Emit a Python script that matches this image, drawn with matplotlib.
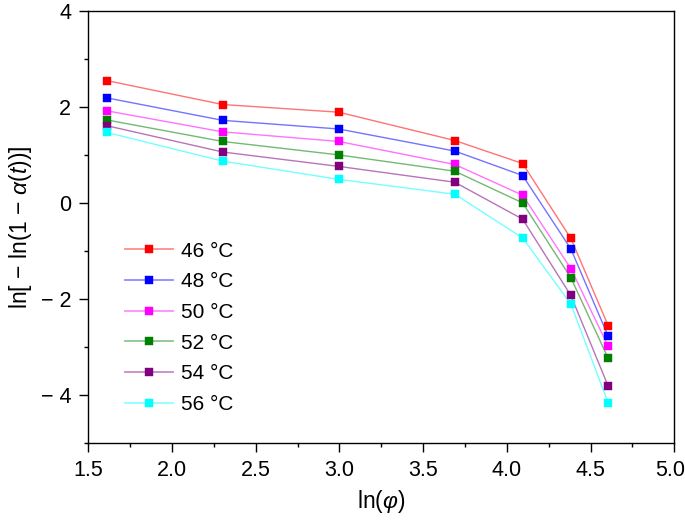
import matplotlib
matplotlib.use("Agg")
import matplotlib.pyplot as plt
from matplotlib.ticker import MultipleLocator, FuncFormatter
from matplotlib.lines import Line2D
from matplotlib.legend_handler import HandlerTuple
from matplotlib.transforms import ScaledTranslation

plt.rcParams['font.family'] = ['Liberation Sans', 'DejaVu Sans']
plt.rcParams['mathtext.fontset'] = 'custom'
plt.rcParams['mathtext.rm'] = 'Liberation Sans'
plt.rcParams['mathtext.it'] = 'Liberation Sans:italic'

# heating rates -> ln(phi)
ln_phi = [1.609, 2.303, 2.996, 3.689, 4.094, 4.382, 4.605]

labels = ["46 °C", "48 °C", "50 °C", "52 °C", "54 °C", "56 °C"]
colors = ["#FF0000", "#0000FF", "#FF00FF", "#008000", "#800080", "#00FFFF"]

y46 = [2.55, 2.05, 1.89, 1.30, 0.82, -0.74, -2.56]
y48 = [2.19, 1.72, 1.54, 1.08, 0.57, -0.96, -2.78]
y50 = [1.92, 1.48, 1.28, 0.80, 0.16, -1.37, -2.99]
y52 = [1.73, 1.28, 1.00, 0.66, 0.00, -1.56, -3.24]
y54 = [1.61, 1.06, 0.76, 0.43, -0.34, -1.93, -3.82]
y56 = [1.47, 0.87, 0.49, 0.18, -0.73, -2.11, -4.17]
series = [y46, y48, y50, y52, y54, y56]

xticks = [1.5, 2.0, 2.5, 3.0, 3.5, 4.0, 4.5, 5.0]
yticks = [-4, -2, 0, 2, 4]

fig = plt.figure(figsize=(6.85, 5.21), dpi=100)
ax = fig.add_axes([0.1289, 0.1503, 0.9844 - 0.1289, 0.9789 - 0.1503])

handles = []
for ys, c, lab in zip(series, colors, labels):
    ax.plot(ln_phi, ys, '-', color=c, lw=1.0, alpha=0.55, zorder=2)
    ax.plot(ln_phi, ys, 's', color=c, ms=5.2, mec=c, mew=0.3, zorder=3)
    hl = Line2D([], [], color=c, lw=1.3, alpha=0.45)
    hm = Line2D([], [], color=c, ls='none', marker='s', ms=5.2, mec=c, mew=0.3)
    handles.append((hl, hm))

ax.set_xlim(1.5, 5.0)
ax.set_ylim(-5, 4)
ax.set_xticks(xticks)
ax.set_yticks(yticks)
ax.xaxis.set_minor_locator(MultipleLocator(0.25))
ax.yaxis.set_minor_locator(MultipleLocator(1))
ax.xaxis.set_major_formatter(FuncFormatter(lambda v, p: f"{v:.1f}"))
ax.yaxis.set_major_formatter(FuncFormatter(
    lambda v, p: ("\u2212 " + f"{abs(v):.0f}") if v < 0 else f"{v:.0f}"))

ax.tick_params(which='both', direction='out', top=False, right=False,
               width=1.0, labelsize=15.5)
ax.tick_params(which='major', length=6.3, pad=6)
ax.tick_params(which='minor', length=3)
for s in ax.spines.values():
    s.set_linewidth(1.0)

# nudge the last x tick label so it stays inside the figure
last = ax.xaxis.get_major_ticks()[-1].label1
last.set_transform(last.get_transform() + ScaledTranslation(-4 / 100, 0, fig.dpi_scale_trans))

ax.set_xlabel(r'ln($\varphi$)', fontsize=16.5, labelpad=5)
ax.set_ylabel(r'ln[ $-$ ln(1 $-$ $\alpha$($t$))]', fontsize=16.5, labelpad=5)

leg = ax.legend(handles=handles, labels=labels, loc='upper left',
                handler_map={tuple: HandlerTuple(ndivide=1)},
                bbox_to_anchor=(0.062, 0.466), frameon=False,
                fontsize=15, handlelength=2.3, handletextpad=0.4,
                labelspacing=0.56, borderaxespad=0, borderpad=0)

fig.savefig("out.png", dpi=100)
